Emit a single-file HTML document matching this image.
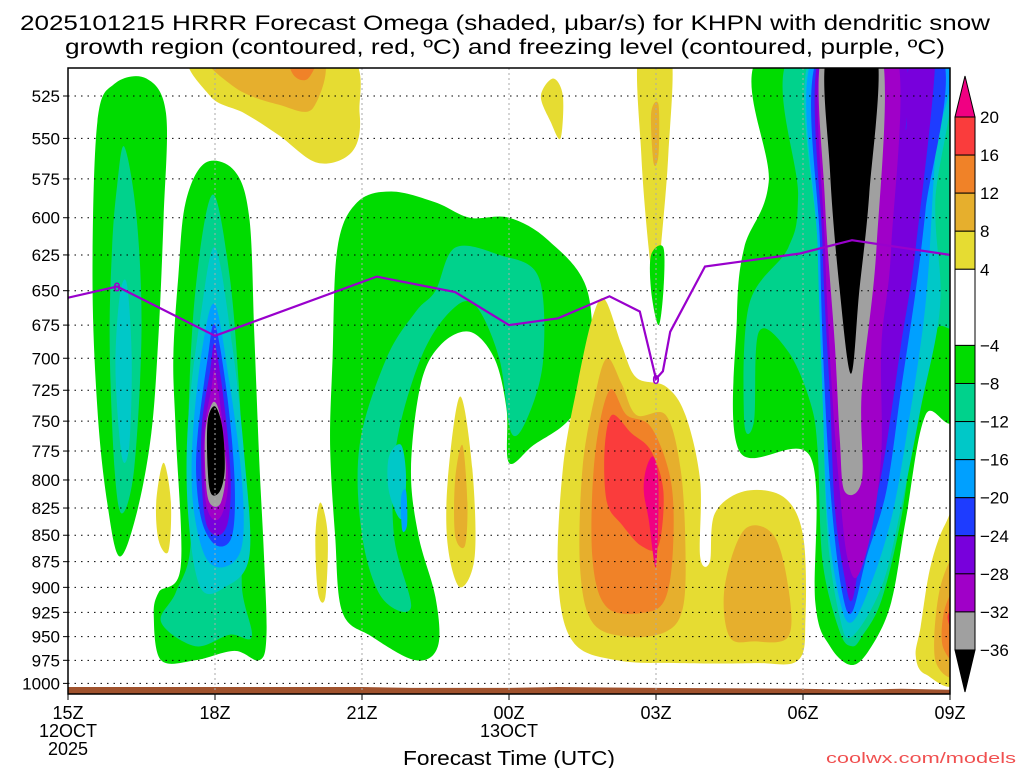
<!DOCTYPE html>
<html><head><meta charset="utf-8"><style>
html,body{margin:0;padding:0;background:#fff;}
svg{display:block;font-family:"Liberation Sans",sans-serif;}
</style></head><body>
<svg id="chart" width="1024" height="768" viewBox="0 0 1024 768" xmlns="http://www.w3.org/2000/svg">
<defs><clipPath id="plotclip"><rect x="68" y="68" width="882" height="626"/></clipPath></defs>
<text x="505" y="30" font-size="21" text-anchor="middle" textLength="970" lengthAdjust="spacingAndGlyphs">2025101215 HRRR Forecast Omega (shaded, μbar/s) for KHPN with dendritic snow</text>
<text x="505" y="54" font-size="21" text-anchor="middle" textLength="880" lengthAdjust="spacingAndGlyphs">growth region (contoured, red, ºC) and freezing level (contoured, purple, ºC)</text>
<g id="shading" clip-path="url(#plotclip)"></g>
<g id="ground"></g>
<g id="grid"></g>
<g id="frz" clip-path="url(#plotclip)"></g>
<rect x="68" y="68" width="882" height="626" fill="none" stroke="#000" stroke-width="1.5"/>
<g id="yaxis"></g>
<g id="xaxis"></g>
<text x="509" y="765" font-size="20" text-anchor="middle" textLength="212" lengthAdjust="spacingAndGlyphs">Forecast Time (UTC)</text>
<text x="1016" y="763" font-size="15" fill="#f05050" text-anchor="end" textLength="190" lengthAdjust="spacingAndGlyphs">coolwx.com/models</text>
<g id="cbar"></g>
</svg>
<script>
const pressureTicks=[525,550,575,600,625,650,675,700,725,750,775,800,825,850,875,900,925,950,975,1000];
const timeTicks=[0,3,6,9,12,15,18];
const timeLabels=["15Z","18Z","21Z","00Z","03Z","06Z","09Z"];
const cbarLevels=[20,16,12,8,4,-4,-8,-12,-16,-20,-24,-28,-32,-36];
const cbarColors=["#f00082","#fa3c3c","#f08228","#e6af2d","#e6dc32","#ffffff","#00dc00","#00d28c","#00c8c8","#00a0ff","#1e3cff","#7800dc","#a000c8","#a0a0a0","#000000"];
const frzHours=[0,1,3,6.3,7.9,9,10,11.05,11.67,12,12.14,12.29,13,14.94,16,18];
const frzPres=[655,647,683,640,651,675,670,654,665,716,710,680,633,624,615,625];
const terrainHours=[0,6,7,9,10,12,15,16,17,18];
const terrainElev=[1004,1004,1005,1005,1004,1005,1006,1007,1006,1007];
// contour regions: [colorIndex, hours[], pressures[]]
const regions=[
[6,[0.6,0.95,1.6,2.0,1.95,1.85,1.7,1.4,1.05,0.8,0.6,0.5],[540,518,515,535,600,680,760,830,870,820,740,640]],
[7,[1.0,1.15,1.4,1.5,1.35,1.1,0.95,0.85,0.9],[580,555,600,680,790,830,790,690,620]],
[8,[1.05,1.2,1.3,1.25,1.1,0.97],[655,645,700,770,780,710]],
[6,[2.25,2.4,2.8,3.4,3.7,3.8,3.9,4.0,4.05,3.9,3.4,2.6,1.9,1.75,1.85,2.3,2.2,2.15],[640,590,565,570,600,680,780,870,950,975,965,975,975,930,905,880,760,700]],
[7,[2.6,2.95,3.3,3.5,3.6,3.55,3.75,3.3,2.6,1.9,2.2,2.5,2.45],[650,585,640,730,830,900,950,948,960,935,905,860,760]],
[8,[2.45,2.7,3.0,3.35,3.6,3.7,3.2,2.7,2.45],[750,670,620,690,780,870,900,900,830]],
[9,[2.55,2.75,3.0,3.3,3.55,3.55,3.2,2.8,2.55],[760,690,660,720,800,860,880,870,820]],
[10,[2.65,2.85,3.0,3.25,3.4,3.35,3.05,2.75,2.62],[760,700,675,730,800,850,860,840,800]],
[11,[2.72,2.9,3.0,3.2,3.32,3.25,3.0,2.78],[760,710,690,740,800,840,850,830]],
[12,[2.78,2.92,3.0,3.15,3.27,3.15,2.95,2.8],[760,725,710,750,800,830,835,815]],
[13,[2.8,2.95,3.1,3.22,3.12,2.92,2.82],[760,735,745,790,820,822,805]],
[14,[2.85,3.0,3.15,3.2,3.1,2.92,2.85],[750,738,755,790,810,812,790]],
[6,[5.4,5.5,5.9,6.6,7.5,8.2,9.0,9.8,10.6,10.65,10.2,9.5,9.0,8.95,8.7,8.2,7.6,7.2,7.0,7.15,7.5,7.55,7.1,6.2,5.6,5.45,5.35],[700,620,590,583,590,600,600,615,650,720,750,770,785,740,700,680,690,720,790,850,910,960,975,950,925,850,770]],
[7,[7.5,7.9,8.8,9.6,9.7,9.4,9.05,8.8,8.3,7.8,7.2,6.7,6.65,7.0,6.4,6.0,5.95,6.5,7.1],[650,620,625,640,700,745,760,700,660,665,700,770,850,920,910,850,770,700,665]],
[8,[6.55,6.8,6.9,6.8,6.55],[780,770,800,835,810]],
[9,[6.8,6.9,6.92,6.82],[815,810,840,845]],
[4,[1.8,1.95,2.1,2.05,1.85],[820,785,820,865,855]],
[4,[5.05,5.15,5.3,5.25,5.1],[850,820,850,910,905]],
[4,[7.75,8.0,8.25,8.3,8.0,7.75],[800,730,790,870,900,860]],
[3,[7.9,8.05,8.15,8.1,7.9],[800,770,820,860,850]],
[4,[2.6,5.6,5.95,5.8,5.1,4.3,3.6,2.9],[500,500,535,558,565,548,535,525]],
[3,[2.85,5.1,5.0,4.3,3.4],[500,500,532,530,520]],
[2,[4.5,5.1,4.9,4.6],[500,500,515,513]],
[4,[9.65,9.9,10.1,10.05,9.85],[525,515,525,550,540]],
[4,[11.65,12.3,12.25,12.1,12.0,11.85,11.7],[500,500,560,620,656,620,560]],
[3,[11.9,12.05,12.05,11.95],[535,530,560,565]],
[6,[11.9,12.15,12.15,12.05,11.9],[625,620,650,675,650]],
[4,[10.95,11.3,11.6,12.2,12.6,12.9,12.9,13.1,13.2,13.8,14.6,15.0,15.05,14.9,14.0,12.5,11.2,10.3,10.0,10.1,10.4,10.7],[656,690,715,722,745,800,870,875,830,810,815,850,930,975,978,978,975,955,890,790,720,670]],
[3,[11.0,11.3,11.6,12.2,12.5,12.6,12.55,12.2,11.4,10.7,10.45,10.5,10.75],[700,720,745,745,790,860,920,945,950,935,880,790,730]],
[3,[13.4,13.8,14.4,14.7,14.7,14.0,13.5],[900,845,850,900,950,955,950]],
[2,[11.05,11.4,11.9,12.3,12.35,12.2,11.8,11.0,10.7,10.75],[725,745,755,800,860,910,925,920,870,780]],
[1,[11.1,11.5,11.9,12.15,12.05,11.7,11.3,11.0,10.95],[745,760,775,810,860,860,840,820,775]],
[0,[11.8,11.95,12.05,12.0,11.85,11.75],[790,780,805,880,835,810]],
[4,[17.4,17.6,17.9,18.2,18.2,17.5,17.3],[940,880,840,830,990,990,970]],
[3,[17.8,18.2,18.2,17.7],[900,870,985,975]],
[2,[17.9,18.2,18.2,17.85],[920,900,975,960]],
[1,[17.95,18.2,18.2],[930,920,960]],
[6,[14.2,18.2,18.2,17.5,17.1,16.8,16.4,16.0,15.55,15.25,15.15,13.7,13.65,13.8,14.3],[500,500,730,745,835,915,960,980,960,915,780,775,670,620,577]],
[7,[14.8,18.2,18.2,17.7,17.3,17.0,16.6,16.2,16.0,15.75,15.4,15.3,15.15,14.7,14.1,14.0,13.8,13.9,14.7,14.9],[500,500,660,680,750,835,913,950,960,945,875,775,735,695,680,750,750,660,620,585]],
[8,[15.2,17.9,17.7,17.8,17.4,17.0,16.6,16.0,15.75,15.5,15.4,15.3],[500,500,590,660,740,825,900,950,930,850,730,620]],
[9,[15.25,17.9,17.7,17.5,17.1,16.8,16.4,16.0,15.75,15.5,15.4,15.3],[500,500,560,660,765,835,895,935,913,835,730,620]],
[10,[15.35,17.8,17.5,17.3,17.0,16.7,16.3,16.0,15.8,15.6,15.45,15.35],[500,500,595,650,725,810,870,925,905,830,730,620]],
[11,[15.35,17.0,17.1,17.2,17.7,17.3,17.0,16.6,16.2,16.0,15.85,15.65,15.55,15.4],[500,500,545,500,500,620,690,795,865,913,890,825,730,620]],
[12,[15.4,16.9,16.8,16.6,16.6,16.4,16.1,15.9,15.75,15.6,15.45],[500,500,620,690,775,845,890,870,810,730,620]],
[13,[15.4,16.6,16.5,16.2,16.2,15.85,15.75,15.65,15.45],[500,500,620,725,800,810,765,690,590]],
[14,[15.5,16.5,16.35,16.15,15.98,15.75,15.55],[500,500,585,650,712,650,570]]
];
const X0=68,X1=950,Y525=96,YSCALE=911.6;
function xs(h){return X0+(X1-X0)*h/18;}
function ys(p){return Y525+YSCALE*(Math.log(p)-Math.log(525));}
const NS="http://www.w3.org/2000/svg";
function mk(tag,parent,attrs){const e=document.createElementNS(NS,tag);for(const k in attrs)e.setAttribute(k,attrs[k]);parent.appendChild(e);return e;}
function smoothPath(pts){
  const n=pts.length;let d="M"+pts[0][0].toFixed(1)+","+pts[0][1].toFixed(1);
  for(let i=0;i<n;i++){
    const p0=pts[(i-1+n)%n],p1=pts[i],p2=pts[(i+1)%n],p3=pts[(i+2)%n];
    const c1=[p1[0]+(p2[0]-p0[0])/6,p1[1]+(p2[1]-p0[1])/6];
    const c2=[p2[0]-(p3[0]-p1[0])/6,p2[1]-(p3[1]-p1[1])/6];
    d+="C"+c1[0].toFixed(1)+","+c1[1].toFixed(1)+" "+c2[0].toFixed(1)+","+c2[1].toFixed(1)+" "+p2[0].toFixed(1)+","+p2[1].toFixed(1);
  }
  return d+"Z";
}
const shading=document.getElementById('shading');
regions.forEach(function(r,i){
  const pts=r[1].map(function(h,j){return [xs(h),ys(r[2][j])];});
  const el=mk('path',shading,{d:smoothPath(pts),fill:cbarColors[r[0]]});
  
  
});
// terrain
const ground=document.getElementById('ground');
let gd="M"+xs(0)+",694";
terrainHours.forEach(function(h,i){gd+=" L"+xs(h).toFixed(1)+","+ys(terrainElev[i]).toFixed(1);});
gd+=" L"+xs(18)+",694Z";
const gEl=mk('path',ground,{d:gd,fill:"#a0522d"});


// grid
const grid=document.getElementById('grid');
pressureTicks.forEach(function(p){
  const l=mk('line',grid,{x1:X0,x2:X1,y1:ys(p),y2:ys(p),stroke:"#000","stroke-width":1,"stroke-dasharray":"1.5,5"});
  
  
});
timeTicks.slice(1,6).forEach(function(h){
  const l=mk('line',grid,{x1:xs(h),x2:xs(h),y1:68,y2:694,stroke:"#aaa","stroke-width":1,"stroke-dasharray":"2,3"});
  
  
});
// freezing level
const frz=document.getElementById('frz');
const fl=mk('polyline',frz,{points:frzHours.map(function(h,i){return xs(h).toFixed(1)+","+ys(frzPres[i]).toFixed(1);}).join(" "),fill:"none",stroke:"#9900cc","stroke-width":2.2});


[[1,647],[12,716]].forEach(function(q){
  const t=mk('text',frz,{x:xs(q[0]),y:ys(q[1])+5,"font-size":13,"text-anchor":"middle",fill:"#9900cc","font-weight":"bold"});
  t.textContent="0";
  
  
});
// y axis
const yax=document.getElementById('yaxis');
pressureTicks.forEach(function(p){
  const t=mk('text',yax,{x:60,y:ys(p)+6,"font-size":17,"text-anchor":"end"});
  t.textContent=String(p);
  
  
  const tk=mk('line',yax,{x1:63,x2:68,y1:ys(p),y2:ys(p),stroke:"#000"});
  
  
});
// x axis
const xax=document.getElementById('xaxis');
timeTicks.forEach(function(h,i){
  const t=mk('text',xax,{x:xs(h),y:719,"font-size":18,"text-anchor":"middle"});
  t.textContent=timeLabels[i];
  
  
  const tk=mk('line',xax,{x1:xs(h),x2:xs(h),y1:694,y2:700,stroke:"#000"});
  
  
});
[[0,737,"12OCT"],[0,755,"2025"],[9,737,"13OCT"]].forEach(function(q){
  const t=mk('text',xax,{x:xs(q[0]),y:q[1],"font-size":18,"text-anchor":"middle"});
  t.textContent=q[2];
  
  
});
// colorbar
const cb=document.getElementById('cbar');
const CBX=955,CBW=20;
function cy(v){return 117+(20-v)/4*38.07;}
for(let i=1;i<cbarLevels.length;i++){
  const r=mk('rect',cb,{x:CBX,y:cy(cbarLevels[i-1]),width:CBW,height:cy(cbarLevels[i])-cy(cbarLevels[i-1]),fill:cbarColors[i],stroke:"#000","stroke-width":1});
  
  
}
const tTop=mk('polygon',cb,{points:CBX+","+cy(20)+" "+(CBX+CBW)+","+cy(20)+" "+(CBX+CBW/2)+",76",fill:cbarColors[0],stroke:"#000"});


const tBot=mk('polygon',cb,{points:CBX+","+cy(-36)+" "+(CBX+CBW)+","+cy(-36)+" "+(CBX+CBW/2)+",692",fill:cbarColors[14],stroke:"#000"});


cbarLevels.forEach(function(v){
  const t=mk('text',cb,{x:980,y:cy(v)+6,"font-size":17});
  t.textContent=(v<0?"\u2212":"")+Math.abs(v);
  
  
});
</script>
</body></html>
